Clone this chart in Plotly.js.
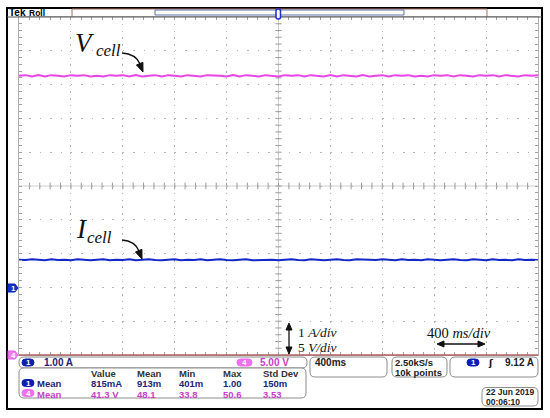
<!DOCTYPE html>
<html><head><meta charset="utf-8">
<script src="https://cdn.plot.ly/plotly-3.0.1.min.js"></script>
<style>html,body{margin:0;padding:0;background:#fff}#chart{width:550px;height:418px}</style>
</head><body><div id="chart"></div>
<script>
// ---------------- data ----------------
const timePerDivMs = 400;       // horizontal scale
const sampleStepMs = 50;        // spacing of the read-off samples
const ch1VoltsPerDiv = 1;       // A/div  (Icell)
const ch4VoltsPerDiv = 5;       // V/div  (Vcell)
const ch1GroundDiv = -3;        // channel 1 ground marker (divisions from centre)
const ch4GroundDiv = -5;        // channel 4 ground marker
const icellAmps = [
0.82,0.81,0.83,0.81,0.80,0.83,0.81,0.82,0.80,0.83,
0.81,0.80,0.82,0.83,0.80,0.82,0.81,0.83,0.80,0.82,
0.83,0.81,0.80,0.82,0.83,0.80,0.82,0.81,0.83,0.80,
0.82,0.83,0.81,0.80,0.82,0.83,0.80,0.81,0.83,0.82,
0.80,0.82,0.83,0.81,0.80,0.83,0.82,0.80,0.82,0.83,
0.81,0.80,0.83,0.82,0.80,0.81,0.83,0.82,0.80,0.83,
0.81,0.82,0.80,0.83,0.81,0.80,0.82,0.83,0.81,0.80,
0.83,0.82,0.80,0.83,0.81,0.82,0.80,0.83,0.81,0.82,0.81];
const vcellVolts = [
41.3,41.4,41.2,41.4,41.2,41.4,41.3,41.2,41.4,41.3,
41.4,41.2,41.3,41.2,41.4,41.3,41.4,41.2,41.4,41.2,
41.3,41.4,41.2,41.4,41.3,41.2,41.4,41.3,41.2,41.4,
41.4,41.3,41.2,41.4,41.2,41.4,41.3,41.2,41.4,41.3,
41.2,41.4,41.3,41.4,41.2,41.4,41.3,41.2,41.4,41.2,
41.4,41.3,41.2,41.4,41.2,41.3,41.4,41.2,41.4,41.3,
41.4,41.2,41.3,41.2,41.4,41.3,41.4,41.2,41.4,41.3,
41.2,41.4,41.3,41.4,41.2,41.4,41.3,41.2,41.4,41.3,41.4];
const measHeaders = ['Value','Mean','Min','Max','Std Dev'];
const measCh1 = ['815mA','913m','401m','1.00','150m'];
const measCh4 = ['41.3 V','48.1','33.8','50.6','3.53'];
const ch1ScaleLabel = '1.00 A';
const ch4ScaleLabel = '5.00 V';
const timebaseLabel = '400ms';
const sampleRateLabel = '2.50kS/s';
const recordLabel = '10k points';
const triggerLabel = '9.12 A';
const dateLabel = '22 Jun 2019';
const clockLabel = '00:06:10';

// ---------------- geometry helpers ----------------
const L = 19, R = 538, T = 17, B = 355;
const X = p => (p - L) / (R - L);
const Y = p => (B - p) / (B - T);
const f = n => n.toFixed(5);
function rrect(x0, y0, x1, y1, r) {
  return `M${f(X(x0+r))},${f(Y(y0))} L${f(X(x1-r))},${f(Y(y0))} Q${f(X(x1))},${f(Y(y0))} ${f(X(x1))},${f(Y(y0+r))} ` +
         `L${f(X(x1))},${f(Y(y1-r))} Q${f(X(x1))},${f(Y(y1))} ${f(X(x1-r))},${f(Y(y1))} ` +
         `L${f(X(x0+r))},${f(Y(y1))} Q${f(X(x0))},${f(Y(y1))} ${f(X(x0))},${f(Y(y1-r))} ` +
         `L${f(X(x0))},${f(Y(y0+r))} Q${f(X(x0))},${f(Y(y0))} ${f(X(x0+r))},${f(Y(y0))} Z`;
}
function poly(pts) { return 'M' + pts.map(p => `${f(X(p[0]))},${f(Y(p[1]))}`).join(' L') + ' Z'; }
function head(tx, ty, dx, dy, len, wid) {
  const n = Math.hypot(dx, dy); const ux = dx/n, uy = dy/n;
  const bx = tx - ux*len, by = ty - uy*len;
  return poly([[tx,ty],[bx - uy*wid/2, by + ux*wid/2],[bx + uy*wid/2, by - ux*wid/2]]);
}
const shapes = [];
const ann = [];
const P = (path, line, fill, w) => shapes.push({type:'path', xref:'paper', yref:'paper', path,
  line:{color: line || 'rgba(0,0,0,0)', width: w === undefined ? 1 : w}, fillcolor: fill || 'rgba(0,0,0,0)', layer:'above'});
const txt = (x, y, text, o) => ann.push(Object.assign({xref:'paper', yref:'paper', x:X(x), y:Y(y), text,
  showarrow:false, xanchor:'left', yanchor:'middle', borderpad:0,
  font:{family:'Liberation Sans, Arial, sans-serif', size:9, color:'#222', weight:'bold'}}, o || {}));

const NAVY = '#1b2478', PINK = '#c53ec5', BLUE = '#1228c8', MAG = '#e845e8', BOXC = '#8c8c8c';
const RF = (color, size) => ({family:'Liberation Sans, Arial, sans-serif', size:size || 10, color, weight:'bold'});

// outer frame
shapes.push({type:'rect', xref:'paper', yref:'paper', x0:X(7), x1:X(542), y0:Y(409), y1:Y(8),
  line:{color:'#000', width:2}, layer:'above'});
// header record bar
P(`M${f(X(72))},${f(Y(17))} L${f(X(72))},${f(Y(9))} L${f(X(487))},${f(Y(9))} L${f(X(487))},${f(Y(17))}`, '#a8705e', null, 1);
P(`M${f(X(155))},${f(Y(10))} L${f(X(404))},${f(Y(10))} M${f(X(155))},${f(Y(15))} L${f(X(404))},${f(Y(15))} M${f(X(155))},${f(Y(10))} L${f(X(155))},${f(Y(15))} M${f(X(404))},${f(Y(10))} L${f(X(404))},${f(Y(15))}`, '#5f70a8', null, 1);
P(`M${f(X(7))},${f(Y(17))} L${f(X(542))},${f(Y(17))}`, '#555', null, 1);
// trigger position marker
P(rrect(276, 9, 280.5, 19, 2), '#1a2fd0', '#ffffff', 1.5);

// centre lines with tick marks (data coordinates)
let cpath = `M0,0 L4000,0 M2000,-5 L2000,5`;
let tpath = '';
for (let t = 80; t < 4000; t += 80) tpath += ` M${t},-0.1 L${t},0.1`;
for (let k = -24; k <= 24; k++) { const v = k*0.2; tpath += ` M1976,${v.toFixed(2)} L2024,${v.toFixed(2)}`; }
shapes.push({type:'path', xref:'x', yref:'y', path:cpath, line:{color:'#cfcfcf', width:1}, layer:'below'});
shapes.push({type:'path', xref:'x', yref:'y', path:tpath, line:{color:'#9a9a9a', width:1}, layer:'below'});
// bottom reference line
P(`M${f(X(19))},${f(Y(355))} L${f(X(538))},${f(Y(355))}`, '#b06262', null, 1.5);

// channel ground markers
P(poly([[8,284],[15,284],[18,288],[15,292],[8,292]]), '#0a20b8', '#1530c8', 1);
txt(10, 288.3, '1', {font:{family:'Liberation Sans', size:8, color:'#fff', weight:'bold'}});
P(poly([[8,351],[15,351],[18,355],[15,359],[8,359]]), '#e060e0', '#f07cf0', 1);
txt(10, 355.3, '4', {font:{family:'Liberation Sans', size:8, color:'#fff', weight:'bold'}});

// readout boxes
P(rrect(19, 357, 307, 368, 5), BOXC, '#fff', 1);
P(rrect(19, 368, 306, 398, 5), BOXC, '#fff', 1);
P(rrect(310, 357, 387, 377, 5), BOXC, '#fff', 1);
P(rrect(392, 357, 447, 377, 5), BOXC, '#fff', 1);
P(rrect(450, 357, 538, 377, 5), BOXC, '#fff', 1);
P(rrect(482, 387.5, 538, 406, 5), BOXC, '#fff', 1);
// pills
function pill(x0, y0, x1, y1, col, label) {
  P(rrect(x0, y0, x1, y1, (y1-y0)/2), col, col, 1);
  ann.push({xref:'paper', yref:'paper', x:X((x0+x1)/2), y:Y((y0+y1)/2 + 0.3), text:label, showarrow:false,
    xanchor:'center', yanchor:'middle', borderpad:0, font:{family:'Liberation Sans', size:8, color:'#fff', weight:'bold'}});
}
pill(22, 359, 34, 366, '#0a1fb0', '1');
pill(237, 359, 252, 366, '#f06ef0', '4');
pill(22, 379.5, 34, 386.5, '#0a1fb0', '1');
pill(22, 389.5, 34, 396.5, '#f06ef0', '4');
pill(467, 359, 479, 366, '#0a1fb0', '1');

txt(43, 362.5, ch1ScaleLabel, {font:RF(NAVY)});
txt(259, 362.5, ch4ScaleLabel, {font:RF(PINK)});
txt(314, 362.5, timebaseLabel, {font:RF('#222')});
txt(394, 362.5, sampleRateLabel, {font:RF('#222', 9.5)});
txt(394, 372, recordLabel, {font:RF('#222', 9.5)});
txt(487, 362.5, 'ʃ', {font:{family:'DejaVu Sans', size:9, color:'#111', weight:'bold'}});
ann.push({xref:'paper', yref:'paper', x:X(535), y:Y(362.5), text:triggerLabel, showarrow:false, xanchor:'right', yanchor:'middle',
  borderpad:0, font:RF('#222')});
txt(484.5, 392.3, dateLabel, {font:RF('#222', 8.5)});
txt(484.5, 401.7, clockLabel, {font:RF('#222', 8.5)});

const colX = [90, 136, 178, 222, 262];
measHeaders.forEach((h, i) => txt(colX[i], 373, h, {font:RF('#333', 9.5)}));
txt(36, 383.5, 'Mean', {font:RF(NAVY, 9.5)});
txt(36, 394, 'Mean', {font:RF(PINK, 9.5)});
measCh1.forEach((v, i) => txt(colX[i], 383.5, v, {font:RF(NAVY, 9.5)}));
measCh4.forEach((v, i) => txt(colX[i], 394, v, {font:RF(PINK, 9.5)}));

// header text
txt(8, 12.8, 'Tek', {font:{family:'Liberation Sans', size:10, color:'#000', weight:'bold'}});
txt(27.5, 12.5, 'Roll', {font:{family:'Liberation Sans', size:8.5, color:'#000', weight:'bold'}});

// labels on the screen
const serif = {family:'Liberation Serif, Times New Roman, serif', color:'#111', style:'italic'};
txt(74, 43, 'V', {font:Object.assign({size:27}, serif)});
txt(95, 51, 'cell', {font:Object.assign({size:17}, serif)});
txt(75, 229, 'I', {font:Object.assign({size:27}, serif)});
txt(86, 237, 'cell', {font:Object.assign({size:17}, serif)});
// curved arrows
P(`M${f(X(122))},${f(Y(53))} Q${f(X(136))},${f(Y(54))} ${f(X(140))},${f(Y(64))}`, '#111', null, 1.3);
P(head(143, 72, 4, 10, 9, 7), '#111', '#111', 1);
P(`M${f(X(122))},${f(Y(240))} Q${f(X(135))},${f(Y(241))} ${f(X(139))},${f(Y(251))}`, '#111', null, 1.3);
P(head(142, 259, 4, 10, 9, 7), '#111', '#111', 1);
// scale annotations
P(`M${f(X(289))},${f(Y(329))} L${f(X(289))},${f(Y(348))}`, '#111', null, 1.3);
P(head(289, 323, 0, -1, 7, 6), '#111', '#111', 1);
P(head(289, 354, 0, 1, 7, 6), '#111', '#111', 1);
txt(297, 332, '1 <i>A/div</i>', {font:{family:'Liberation Serif, serif', size:13.5, color:'#111'}});
txt(297, 347, '5 <i>V/div</i>', {font:{family:'Liberation Serif, serif', size:13.5, color:'#111'}});
txt(426, 332.5, '400 <i>ms/div</i>', {font:{family:'Liberation Serif, serif', size:14.5, color:'#111'}});
P(`M${f(X(443))},${f(Y(344))} L${f(X(479))},${f(Y(344))}`, '#111', null, 1.3);
P(head(437, 344, -1, 0, 7, 6), '#111', '#111', 1);
P(head(485, 344, 1, 0, 7, 6), '#111', '#111', 1);

// ---------------- traces ----------------
const traces = [
  {type:'scatter', mode:'lines', x0:0, dx:sampleStepMs, y:vcellVolts.map(v => ch4GroundDiv + v/ch4VoltsPerDiv),
   line:{color:MAG, width:2}, hoverinfo:'skip', name:'Vcell'},
  {type:'scatter', mode:'lines', x0:0, dx:sampleStepMs, y:icellAmps.map(v => ch1GroundDiv + v/ch1VoltsPerDiv),
   line:{color:BLUE, width:2}, hoverinfo:'skip', name:'Icell'}
];

const layout = {
  width:550, height:418, autosize:false,
  margin:{l:19, r:12, t:17, b:63, pad:0},
  paper_bgcolor:'#fff', plot_bgcolor:'#fff', showlegend:false,
  xaxis:{range:[0, 10*timePerDivMs], dtick:timePerDivMs, tick0:0, showticklabels:false, zeroline:false,
    showgrid:true, gridcolor:'#b4b4b4', gridwidth:1, griddash:'1.5px,5.26px',
    showline:true, linecolor:'#b0b0b0', linewidth:1, mirror:'ticks',
    ticks:'inside', ticklen:3, tickcolor:'#a0a0a0',
    minor:{dtick:timePerDivMs/5, ticks:'inside', ticklen:3, tickcolor:'#a0a0a0', showgrid:false}},
  yaxis:{range:[-5, 5], dtick:1, tick0:0, showticklabels:false, zeroline:false,
    showgrid:true, gridcolor:'#b4b4b4', gridwidth:1, griddash:'1.5px,8.88px',
    showline:true, linecolor:'#b0b0b0', linewidth:1, mirror:'ticks',
    ticks:'inside', ticklen:3, tickcolor:'#a0a0a0',
    minor:{dtick:0.2, ticks:'inside', ticklen:3, tickcolor:'#a0a0a0', showgrid:false}},
  shapes, annotations:ann
};
Plotly.newPlot('chart', traces, layout, {staticPlot:true, displayModeBar:false});
</script></body></html>
